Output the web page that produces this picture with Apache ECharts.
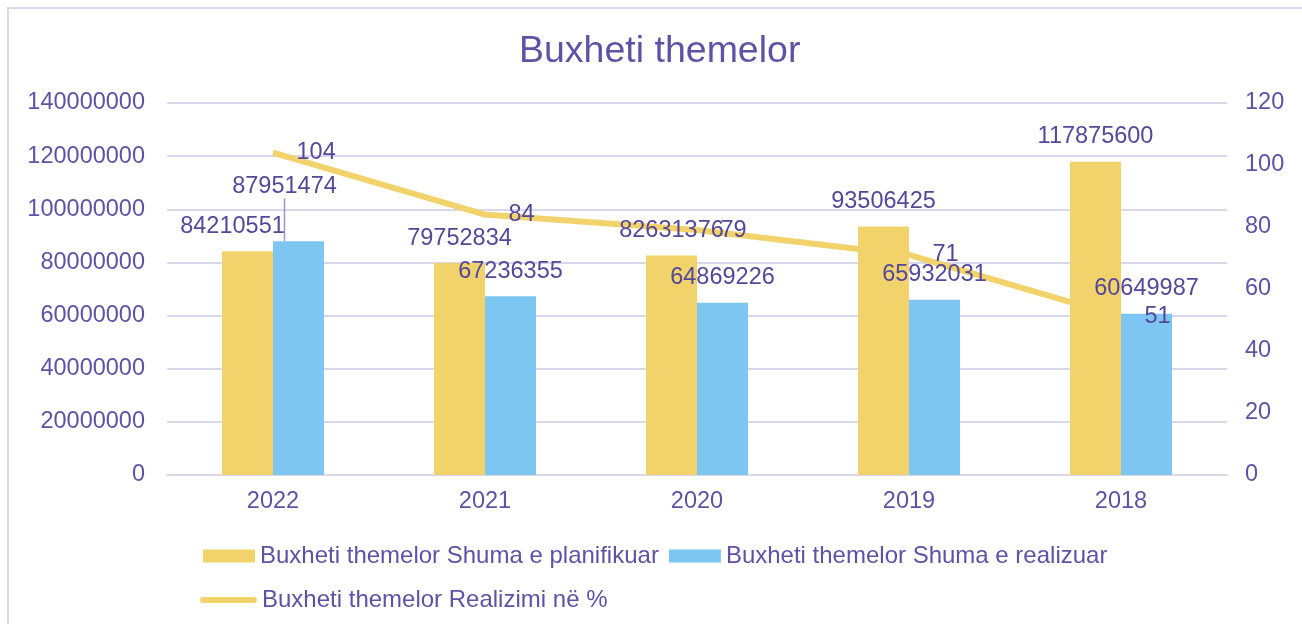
<!DOCTYPE html>
<html>
<head>
<meta charset="utf-8">
<script src="https://cdn.jsdelivr.net/npm/echarts@6/dist/echarts.min.js"></script>
<style>
  html, body { margin: 0; padding: 0; background: #fff; }
  #chart { width: 1302px; height: 624px; }
</style>
</head>
<body>
<div id="chart"></div>
<script>
const years = ['2022', '2021', '2020', '2019', '2018']
const planned = [84210551, 79752834, 82631376, 93506425, 117875600]
const realized = [87951474, 67236355, 64869226, 65932031, 60649987]
const percent = [104, 84, 79, 71, 51]

const names = [
  'Buxheti themelor Shuma e planifikuar',
  'Buxheti themelor Shuma e realizuar',
  'Buxheti themelor Realizimi në %'
]

const txt = '#5F52A6'
const lbl = '#54489A'
const grid = '#DAD7EC'
const yellow = '#F2D36B'
const blue = '#7DC6F2'
const font = '"Liberation Sans", Arial, sans-serif'

const chart = echarts.init(document.getElementById('chart'))

chart.setOption({
  textStyle: { fontFamily: font },
  animation: false,
  graphic: [{
    type: 'rect',
    shape: { x: 8, y: 8, width: 1400, height: 700 },
    style: { fill: 'none', stroke: grid, lineWidth: 2 },
    silent: true
  }],
  title: {
    text: 'Buxheti themelor',
    left: 514,
    top: 28,
    textStyle: { color: txt, fontSize: 37.5, fontWeight: 'normal', fontFamily: font }
  },
  legend: [{
    data: [names[0], names[1]],
    left: 203,
    top: 544,
    padding: 0,
    icon: 'rect',
    itemWidth: 52,
    itemHeight: 13,
    itemGap: 10,
    textStyle: { color: txt, fontSize: 24, fontFamily: font }
  }, {
    data: [names[2]],
    left: 200,
    top: 588,
    padding: 0,
    icon: 'path://M3,0 L54,0 A3,3 0 0 1 54,6 L3,6 A3,3 0 0 1 3,0 Z',
    itemWidth: 57,
    itemHeight: 6,
    textStyle: { color: txt, fontSize: 24, fontFamily: font }
  }],
  grid: { left: 167, right: 75, top: 103, bottom: 149 },
  xAxis: {
    type: 'category',
    data: years,
    axisLine: { lineStyle: { color: grid, width: 2 } },
    axisTick: { show: false },
    axisLabel: { color: txt, fontSize: 23.5, margin: 15 }
  },
  yAxis: [{
    type: 'value',
    min: 0,
    max: 140000000,
    interval: 20000000,
    axisLine: { show: false },
    axisTick: { show: false },
    splitLine: { lineStyle: { color: grid, width: 2 } },
    axisLabel: { color: txt, fontSize: 23.5, margin: 22, formatter: v => String(v) }
  }, {
    type: 'value',
    min: 0,
    max: 120,
    interval: 20,
    axisLine: { show: false },
    axisTick: { show: false },
    splitLine: { show: false },
    axisLabel: { color: txt, fontSize: 23.5, margin: 18 }
  }],
  series: [{
    name: names[2],
    type: 'line',
    yAxisIndex: 1,
    data: percent,
    symbol: 'none',
    z: 1,
    lineStyle: { color: yellow, width: 6 },
    itemStyle: { color: yellow }
  }, {
    name: names[0],
    type: 'bar',
    data: planned.map((v, i) => i === 0 ? { value: v, label: { offset: [-15, 0] } } : v),
    barWidth: 51,
    barGap: 0,
    z: 2,
    itemStyle: { color: yellow },
    label: { show: true, position: 'top', distance: 13, color: lbl, fontSize: 23.5 }
  }, {
    name: names[1],
    type: 'bar',
    data: realized.map((v, i) => ({ value: v, labelLine: { show: i === 0 } })),
    barWidth: 51,
    barGap: 0,
    z: 2,
    itemStyle: { color: blue },
    label: { show: true, position: 'top', distance: 13, color: lbl, fontSize: 23.5 },
    labelLine: { lineStyle: { color: '#9C93CC', width: 1.5 } },
    labelLayout: p => p.dataIndex === 0 ? { dx: -14, dy: -30 } : {}
  }, {
    // labels for the % line, kept on top of the bars
    name: 'labels',
    type: 'scatter',
    yAxisIndex: 1,
    data: percent,
    symbolSize: 1,
    z: 3,
    silent: true,
    itemStyle: { color: 'rgba(0,0,0,0)', opacity: 1 },
    label: { show: true, position: 'right', distance: 23, color: lbl, fontSize: 23.5 }
  }]
})
</script>
</body>
</html>
